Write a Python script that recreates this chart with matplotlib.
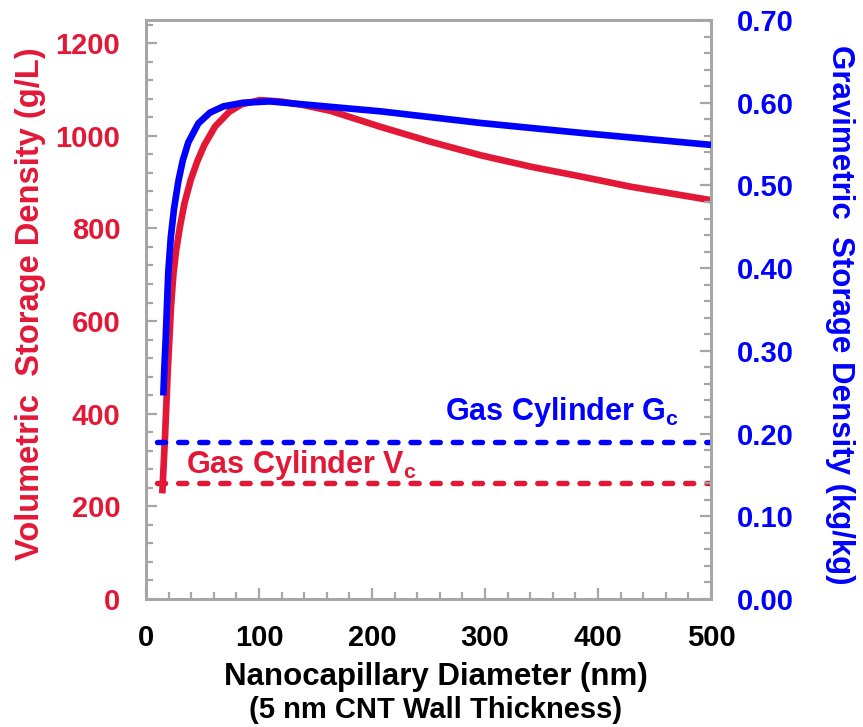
import matplotlib
matplotlib.use("Agg")
import matplotlib.pyplot as plt
from matplotlib.ticker import MultipleLocator

plt.rcParams['font.family'] = ['Liberation Sans', 'DejaVu Sans']
plt.rcParams['font.weight'] = 'bold'
plt.rcParams['mathtext.fontset'] = 'custom'
plt.rcParams['mathtext.rm'] = 'Liberation Sans'
plt.rcParams['mathtext.bf'] = 'Liberation Sans:bold'

# Volumetric storage density (g/L), left axis
vol_x = [14.4, 16.8, 19.2, 22.1, 24.2, 26.5, 30.1, 34.1, 39.6, 45.4, 51.6, 61.1, 73.7, 84.7, 100.9,
         119, 140, 163, 208, 252, 296, 341, 385, 429, 500]
vol_y = [228, 350, 490, 631, 700, 750, 805, 855, 905, 945, 980, 1020, 1052, 1068, 1077,
         1074, 1066, 1054, 1019, 987, 958, 933, 912, 890, 861]

# Gravimetric storage density (kg/kg), right axis
grav_x = [15.3, 16.2, 17.4, 18.6, 19.7, 21.9, 24.8, 28.6, 32.5, 37.4, 46.3, 56.6, 68.4, 86.1, 109.7,
          208, 296, 385, 500]
grav_y = [0.246, 0.278, 0.314, 0.357, 0.395, 0.437, 0.472, 0.505, 0.530, 0.552, 0.575, 0.588, 0.5955,
          0.600, 0.6016, 0.5895, 0.5755, 0.5635, 0.549]

# Gas cylinder reference levels
cyl_x = [10, 500]
vc_level = 250
gc_level = 0.19

x_ticks = [0, 100, 200, 300, 400, 500]
left_ticks = [0, 200, 400, 600, 800, 1000, 1200]
right_ticks = [0.0, 0.1, 0.2, 0.3, 0.4, 0.5, 0.6, 0.7]

RED = '#e31837'
BLUE = '#0000ff'
GREY = '#a6a6a6'

fig = plt.figure(figsize=(8.63, 7.27), dpi=100)
ax = fig.add_axes([0.1692, 0.1761, 0.8239 - 0.1692, 0.9725 - 0.1761])
ax2 = ax.twinx()

ax.plot(vol_x, vol_y, color=RED, lw=4.8, solid_capstyle='butt', solid_joinstyle='round', zorder=3)
ax.plot(cyl_x, [vc_level, vc_level], color=RED, lw=3.9, ls=(0, (1.5, 2.4)), dash_capstyle='round', zorder=2)
ax2.plot(grav_x, grav_y, color=BLUE, lw=4.8, solid_capstyle='butt', solid_joinstyle='round', zorder=3)
ax2.plot(cyl_x, [gc_level, gc_level], color=BLUE, lw=3.9, ls=(0, (1.5, 2.4)), dash_capstyle='round', zorder=2)

ax.text(35, 272, 'Gas Cylinder V$_{\\mathbf{c}}$', color=RED, fontsize=22, fontweight='bold',
        va='baseline', ha='left')
ax2.text(265, 0.216, 'Gas Cylinder G$_{\\mathbf{c}}$', color=BLUE, fontsize=22, fontweight='bold',
         va='baseline', ha='left')

ax.set_xlim(0, 500)
ax.set_ylim(0, 1250)
ax2.set_ylim(0, 0.7)

ax.set_xticks(x_ticks)
ax.set_xticklabels([str(v) for v in x_ticks])
ax.xaxis.set_minor_locator(MultipleLocator(20))
ax.set_yticks(left_ticks)
ax.set_yticklabels([str(v) for v in left_ticks])
ax.yaxis.set_minor_locator(MultipleLocator(40))
ax2.set_yticks(right_ticks)
ax2.set_yticklabels([f'{v:.2f}' for v in right_ticks])
ax2.yaxis.set_minor_locator(MultipleLocator(0.02))

for a in (ax, ax2):
    for s in a.spines.values():
        s.set_color(GREY)
        s.set_linewidth(2)
    a.tick_params(which='major', direction='in', length=8, width=1.6, color=GREY)
    a.tick_params(which='minor', direction='in', length=5, width=1.6, color=GREY)

ax.tick_params(axis='x', labelsize=21, labelcolor='black', pad=18)
ax.tick_params(axis='y', labelsize=21, labelcolor=RED, pad=18.5, which='major')
ax2.tick_params(axis='y', labelsize=21, labelcolor=BLUE, pad=18.5, which='major')
ax.tick_params(axis='x', which='both', top=False)

for lab in ax.get_xticklabels() + ax.get_yticklabels() + ax2.get_yticklabels():
    lab.set_fontweight('bold')

# x-axis title (two lines)
fig.text(436 / 863, 1 - 685 / 727, 'Nanocapillary Diameter (nm)', fontsize=22.5, fontweight='bold',
         color='black', ha='center', va='baseline')
fig.text(436 / 863, 1 - 718 / 727, '(5 nm CNT Wall Thickness)', fontsize=21, fontweight='bold',
         color='black', ha='center', va='baseline')

ax.set_ylabel('Volumetric  Storage Density (g/L)', fontsize=23.5, fontweight='bold', color=RED)
ax.yaxis.label.set_va('center')
ax.yaxis.set_label_coords((30 - 146) / 565, (599 - 304) / 579)
ax2.set_ylabel('Gravimetric  Storage Density (kg/kg)', fontsize=22.5, fontweight='bold', color=BLUE,
               rotation=270)
ax2.yaxis.label.set_va('center')
ax2.yaxis.set_label_coords((840 - 146) / 565, (599 - 315) / 579)

fig.savefig('out.png', dpi=100)
